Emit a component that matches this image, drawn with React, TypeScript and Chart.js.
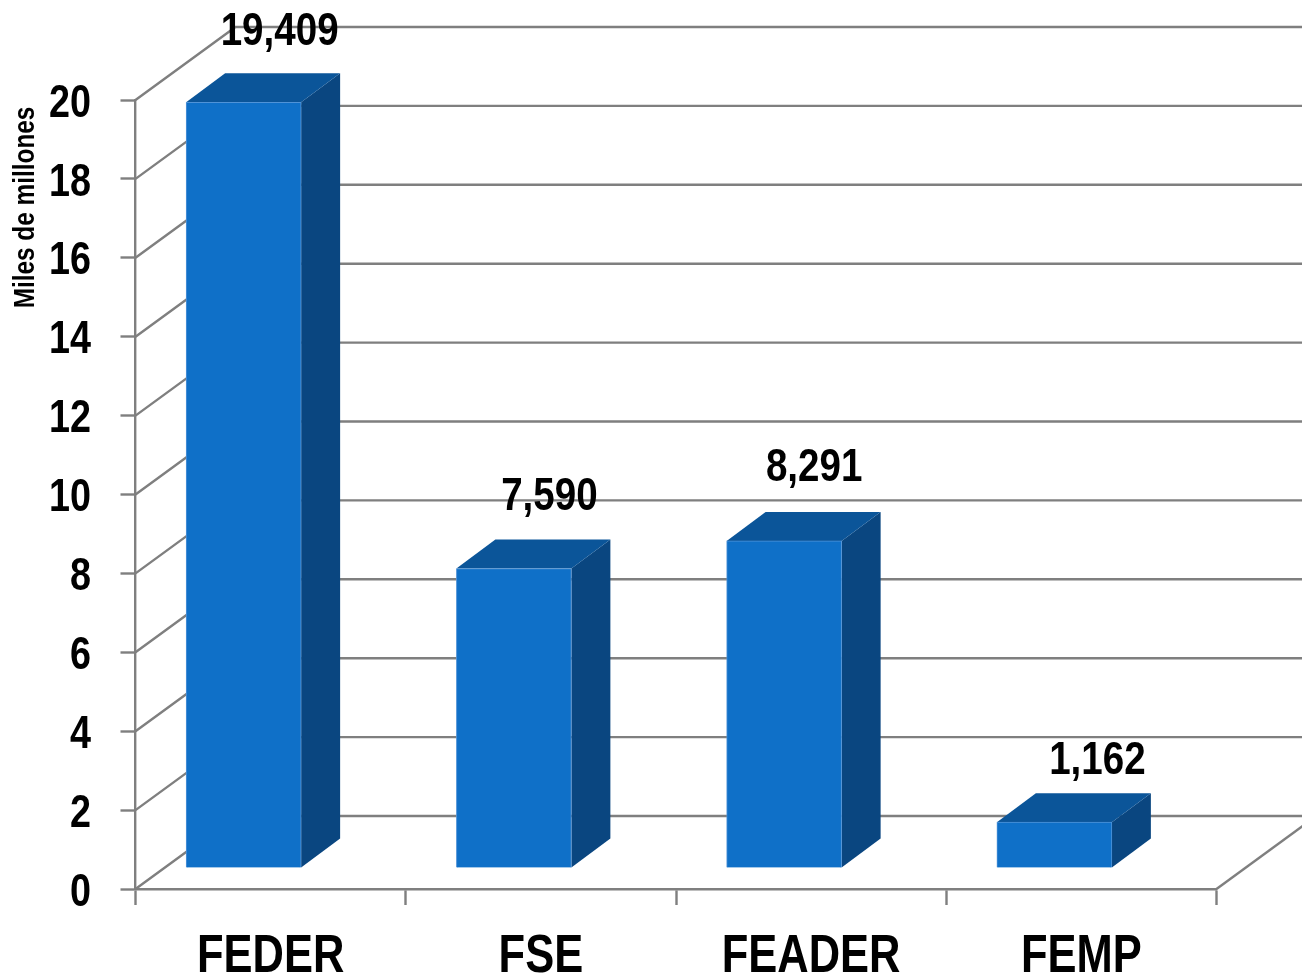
import React, { useEffect, useRef } from "react";
import { Chart, registerables } from "chart.js";

Chart.register(...registerables);

const categories = ["FEDER", "FSE", "FEADER", "FEMP"];
const values = [19409, 7590, 8291, 1162];
const labelTexts = ["19,409", "7,590", "8,291", "1,162"];
const labelShiftX = [36, 35.5, 30, 43];
const labelShiftY = [-73, -75, -76, -64];
const axisTitle = "Miles de millones";

const FONT = '"Liberation Sans", sans-serif';
const NARROW = 0.82;
const GRID = "#7f7f7f";
const FRONT = "#0f70c8";
const TOP = "#0b5599";
const SIDE = "#0a4680";
const WALL_DX = 100;
const WALL_DY = 73;
const BAR_SHIFT_X = -27;
const BAR_SHIFT_Y = -21;
const DEPTH_X = 39;
const DEPTH_Y = 29;

const poly = (ctx: CanvasRenderingContext2D, pts: number[][], fill: string) => {
  ctx.beginPath();
  pts.forEach(([x, y], i) => (i ? ctx.lineTo(x, y) : ctx.moveTo(x, y)));
  ctx.closePath();
  ctx.fillStyle = fill;
  ctx.fill();
};

const narrowText = (
  ctx: CanvasRenderingContext2D,
  text: string,
  x: number,
  y: number,
  size: number,
  align: CanvasTextAlign,
  baseline: CanvasTextBaseline,
  stretch = NARROW,
) => {
  ctx.save();
  ctx.translate(x, y);
  ctx.scale(stretch, 1);
  ctx.font = `bold ${size}px ${FONT}`;
  ctx.textAlign = align;
  ctx.textBaseline = baseline;
  ctx.fillStyle = "#000";
  ctx.fillText(text, 0, 0);
  ctx.restore();
};

const threeD = {
  id: "threeD",
  beforeDatasetsDraw(chart: any) {
    const { ctx, scales } = chart;
    const y = scales.y;
    const x = scales.x;
    ctx.save();
    ctx.strokeStyle = GRID;
    ctx.lineWidth = 2.4;
    y.ticks.forEach((t: any) => {
      const py = y.getPixelForValue(t.value);
      ctx.beginPath();
      ctx.moveTo(x.left, py);
      ctx.lineTo(x.left + WALL_DX, py - WALL_DY);
      ctx.lineTo(chart.width, py - WALL_DY);
      ctx.stroke();
    });
    const by = y.getPixelForValue(0);
    ctx.beginPath();
    ctx.moveTo(x.right, by);
    ctx.lineTo(x.right + WALL_DX, by - WALL_DY);
    ctx.stroke();
    ctx.restore();
  },
  beforeDatasetDraw(chart: any, args: any) {
    const { ctx } = chart;
    ctx.save();
    ctx.translate(BAR_SHIFT_X, BAR_SHIFT_Y);
    args.meta.data.forEach((el: any) => {
      const { x, y, base, width } = el.getProps(["x", "y", "base", "width"], true);
      const l = x - width / 2;
      const r = x + width / 2;
      poly(ctx, [[r, y], [r + DEPTH_X, y - DEPTH_Y], [r + DEPTH_X, base - DEPTH_Y], [r, base]], SIDE);
      poly(ctx, [[l, y], [l + DEPTH_X, y - DEPTH_Y], [r + DEPTH_X, y - DEPTH_Y], [r, y]], TOP);
    });
  },
  afterDatasetDraw(chart: any) {
    chart.ctx.restore();
  },
  afterDatasetsDraw(chart: any) {
    const { ctx, scales } = chart;
    const meta = chart.getDatasetMeta(0);
    meta.data.forEach((el: any, i: number) => {
      narrowText(
        ctx,
        labelTexts[i],
        el.x + BAR_SHIFT_X + labelShiftX[i],
        el.y + BAR_SHIFT_Y + labelShiftY[i] + 3,
        47,
        "center",
        "middle",
      );
    });
    scales.y.ticks.forEach((t: any) => {
      narrowText(ctx, String(t.label), 91, scales.y.getPixelForValue(t.value) + 4, 46, "right", "middle");
    });
    categories.forEach((c, i) => {
      narrowText(ctx, c, scales.x.getPixelForValue(i), 972, 53, "center", "alphabetic");
    });
    ctx.save();
    ctx.translate(34, 207.5);
    ctx.rotate(-Math.PI / 2);
    narrowText(ctx, axisTitle, 0, 0, 29, "center", "alphabetic", 0.84);
    ctx.restore();
  },
};

export default function App() {
  const ref = useRef<HTMLCanvasElement>(null);
  useEffect(() => {
    const chart = new Chart(ref.current!, {
      type: "bar",
      data: {
        labels: categories,
        datasets: [
          {
            data: values,
            backgroundColor: FRONT,
            borderColor: "#4f93d8",
            borderWidth: 1,
            barThickness: 115,
            clip: false,
          } as any,
        ],
      },
      options: {
        responsive: false,
        animation: false,
        layout: { padding: { top: 100, right: 85.5, left: 0, bottom: 0 } },
        plugins: { legend: { display: false }, title: { display: false }, tooltip: { enabled: false } },
        scales: {
          x: {
            type: "category",
            offset: true,
            afterFit: (s: any) => {
              s.height = 88;
            },
            grid: {
              offset: true,
              drawOnChartArea: false,
              drawTicks: true,
              tickLength: 16,
              tickColor: GRID,
              tickWidth: 2.4,
            },
            border: { color: GRID, width: 2.4 },
            ticks: { display: false, autoSkip: false, maxRotation: 0 },
          },
          y: {
            min: 0,
            max: 20000,
            afterFit: (s: any) => {
              s.width = 135.5;
            },
            grid: {
              drawOnChartArea: false,
              drawTicks: true,
              tickLength: 15,
              tickColor: GRID,
              tickWidth: 2.4,
            },
            border: { color: GRID, width: 2.4 },
            ticks: {
              display: false,
              stepSize: 2000,
              callback: (v: any) => String(Number(v) / 1000),
            },
          },
        },
      } as any,
      plugins: [threeD],
    });
    return () => chart.destroy();
  }, []);
  return (
    <canvas
      ref={ref}
      width={1302}
      height={977}
      style={{ position: "absolute", left: 0, top: 0, display: "block" }}
    />
  );
}
